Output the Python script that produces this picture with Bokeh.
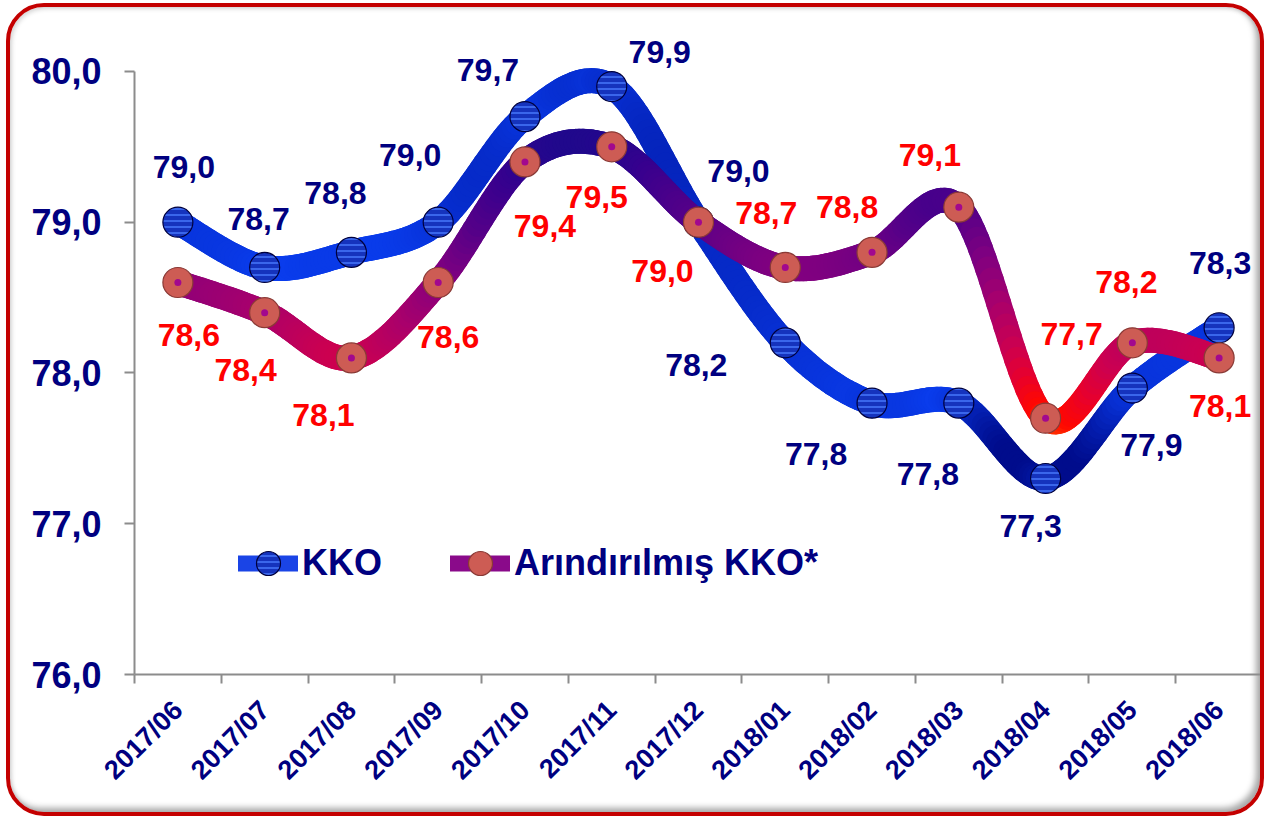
import math
from bokeh.plotting import figure
from bokeh.models import (ColumnDataSource, Range1d, FixedTicker, CustomJSTickFormatter,
                          Legend, LegendItem)
from bokeh.embed import file_html
from bokeh.resources import INLINE
from bokeh.core.properties import value

# ---------------- data ----------------
months = ["2017/06", "2017/07", "2017/08", "2017/09", "2017/10", "2017/11", "2017/12",
          "2018/01", "2018/02", "2018/03", "2018/04", "2018/05", "2018/06"]
kko = [79.0, 78.7, 78.8, 79.0, 79.7, 79.9, 79.0, 78.2, 77.8, 77.8, 77.3, 77.9, 78.3]
ark = [78.6, 78.4, 78.1, 78.6, 79.4, 79.5, 79.0, 78.7, 78.8, 79.1, 77.7, 78.2, 78.1]
y_ticks = [76, 77, 78, 79, 80]
series_names = ["KKO", "Arındırılmış KKO*"]

# label placement (screen pixel offsets from each point)
kko_lab_dx = [6, -6, -16, -28, -37, 48, 40, -89, -56, -31, -15, 19, 1]
kko_lab_dy = [-55, -48, -59, -67, -47, -35, -51, 22, 51, 71, 47, 57, -65]
ark_lab_dx = [11, -19, -28, 10, 20, -15, -36, -19, -25, -29, 26, -6, 1]
ark_lab_dy = [52, 57, 57, 54, 64, 50, 49, -54, -45, -52, -84, -61, 48]

FONT = "Liberation Sans"
NAVY = "#000080"
RED = "#ff0000"
AXIS_GRAY = "#8c8c8c"

xs = [i + 0.5 for i in range(len(months))]

W, H = 1258, 813
p = figure(width=W, height=H, output_backend="svg", toolbar_location=None,
           x_range=Range1d(0, 13), y_range=Range1d(76, 80.338),
           min_border_left=124, min_border_right=6, min_border_top=13,
           min_border_bottom=146)
p.xgrid.visible = False
p.ygrid.visible = False
p.outline_line_color = None
p.background_fill_alpha = 0
p.border_fill_alpha = 0
p.styles = {
    "margin-left": "6px",
    "margin-top": "3px",
    "border": "4px solid #c40000",
    "border-radius": "38px",
    "overflow": "hidden",
    "background-color": "white",
    "box-shadow": "inset -4px -4px 6px rgba(0,0,0,0.35), inset 2px 2px 4px rgba(0,0,0,0.15)",
}


def hex2rgb(h):
    h = h.lstrip("#")
    return tuple(int(h[i:i + 2], 16) for i in (0, 2, 4))


def rgb2hex(c):
    return "#%02x%02x%02x" % tuple(max(0, min(255, int(round(v)))) for v in c)


def mix(c1, c2, f):
    a, b = hex2rgb(c1), hex2rgb(c2)
    return rgb2hex([a[i] + (b[i] - a[i]) * f for i in range(3)])


def stop_color(v, stops):
    if v >= stops[0][0]:
        return stops[0][1]
    for (v1, c1), (v2, c2) in zip(stops[:-1], stops[1:]):
        if v1 >= v >= v2:
            return mix(c1, c2, (v1 - v) / (v1 - v2))
    return stops[-1][1]


RED_STOPS = [(79.6, "#1a0a8c"), (79.3, "#38008e"), (79.0, "#560088"), (78.7, "#800080"),
             (78.4, "#a8006c"), (78.1, "#cc0050"), (77.9, "#e8002c"), (77.72, "#ff0800"),
             (77.6, "#ff6a00")]
BLUE_BRIGHT = "#0a3ef0"
BLUE_DARK = "#000c8c"

PX_X = 1128 / 13
PX_Y = 654 / 4.338


def bez_point(p0, c1, c2, p3, t):
    u = 1 - t
    return tuple(u ** 3 * p0[k] + 3 * u * u * t * c1[k] + 3 * u * t * t * c2[k] + t ** 3 * p3[k]
                 for k in range(2))


def bez_deriv(p0, c1, c2, p3, t):
    u = 1 - t
    return tuple(3 * u * u * (c1[k] - p0[k]) + 6 * u * t * (c2[k] - c1[k]) + 3 * t * t * (p3[k] - c2[k])
                 for k in range(2))


def smooth_source(xv, yv, color_fn, n_sub=24):
    d = dict(x0=[], y0=[], x1=[], y1=[], cx0=[], cy0=[], cx1=[], cy1=[], c=[])
    n = len(xv)
    for i in range(n - 1):
        p0 = (xv[i], yv[i])
        p3 = (xv[i + 1], yv[i + 1])
        pm = (xv[i - 1], yv[i - 1]) if i > 0 else p0
        pp = (xv[i + 2], yv[i + 2]) if i + 2 < n else p3
        c1 = (p0[0] + (p3[0] - pm[0]) / 6, p0[1] + (p3[1] - pm[1]) / 6)
        c2 = (p3[0] - (pp[0] - p0[0]) / 6, p3[1] - (pp[1] - p0[1]) / 6)
        for k in range(n_sub):
            t0, t1 = k / n_sub, (k + 1) / n_sub
            a = bez_point(p0, c1, c2, p3, t0)
            b = bez_point(p0, c1, c2, p3, t1)
            da = bez_deriv(p0, c1, c2, p3, t0)
            db = bez_deriv(p0, c1, c2, p3, t1)
            h = (t1 - t0) / 3
            d["x0"].append(a[0]); d["y0"].append(a[1])
            d["x1"].append(b[0]); d["y1"].append(b[1])
            d["cx0"].append(a[0] + h * da[0]); d["cy0"].append(a[1] + h * da[1])
            d["cx1"].append(b[0] - h * db[0]); d["cy1"].append(b[1] - h * db[1])
            tm = (t0 + t1) / 2
            m = bez_point(p0, c1, c2, p3, tm)
            dm = bez_deriv(p0, c1, c2, p3, tm)
            slope = abs(dm[1] * PX_Y) / max(1e-6, abs(dm[0] * PX_X))
            d["c"].append(color_fn(m[1], slope))
    return ColumnDataSource(d)


def blue_color(v, slope):
    f = min(1.0, slope / 2.2) * 0.6
    f += max(0.0, min(1.0, (77.85 - v) / 0.45)) * 0.8
    f += max(0.0, min(1.0, (v - 79.8) / 0.2)) * 0.35
    return mix(BLUE_BRIGHT, BLUE_DARK, min(1.0, f))


def red_color(v, slope):
    return stop_color(v, RED_STOPS)


RIBBON_W = 25
K_FILL, K_LINE, K_HATCH = "#1533bd", "#00003c", "#4a7cff"
A_FILL, A_LINE, A_DOT = "#cd5c54", "#8a3a36", "#a2088e"

# ---- KKO ribbon + markers ----
src_k = smooth_source(xs, kko, blue_color)
p.bezier(x0="x0", y0="y0", x1="x1", y1="y1", cx0="cx0", cy0="cy0", cx1="cx1", cy1="cy1",
         source=src_k, line_color="c", line_width=RIBBON_W, line_cap="round")
pts_k = ColumnDataSource(dict(x=xs, y=kko))
p.scatter("x", "y", source=pts_k, size=30, fill_color=K_FILL, line_color=K_LINE,
          line_width=1.2, hatch_pattern="horizontal_line", hatch_color=K_HATCH,
          hatch_scale=6, hatch_weight=2, hatch_alpha=0.7)

# ---- Arındırılmış ribbon + markers ----
src_a = smooth_source(xs, ark, red_color)
p.bezier(x0="x0", y0="y0", x1="x1", y1="y1", cx0="cx0", cy0="cy0", cx1="cx1", cy1="cy1",
         source=src_a, line_color="c", line_width=RIBBON_W, line_cap="round")
pts_a = ColumnDataSource(dict(x=xs, y=ark))
p.scatter("x", "y", source=pts_a, size=30, fill_color=A_FILL, line_color=A_LINE, line_width=1.2)
p.scatter("x", "y", source=pts_a, size=7, fill_color=A_DOT, line_color=None)


# ---- data labels ----
def fmt(v):
    return ("%.1f" % v).replace(".", ",")


lab_k = ColumnDataSource(dict(x=xs, y=kko, t=[fmt(v) for v in kko], dx=kko_lab_dx, dy=kko_lab_dy))
lab_a = ColumnDataSource(dict(x=xs, y=ark, t=[fmt(v) for v in ark], dx=ark_lab_dx, dy=ark_lab_dy))
for src, col in ((lab_k, NAVY), (lab_a, RED)):
    p.text("x", "y", text="t", x_offset="dx", y_offset="dy", source=src,
           text_font=value(FONT), text_font_style="bold", text_font_size="32px",
           text_color=col, text_align="center", text_baseline="middle")

# ---- axes ----
p.yaxis.ticker = FixedTicker(ticks=y_ticks)
p.yaxis.bounds = (76, 80)
p.yaxis.formatter = CustomJSTickFormatter(code="return tick.toFixed(1).replace('.', ',');")
p.yaxis.axis_line_color = AXIS_GRAY
p.yaxis.axis_line_width = 2
p.yaxis.major_tick_line_color = AXIS_GRAY
p.yaxis.major_tick_line_width = 2
p.yaxis.major_tick_out = 10
p.yaxis.major_tick_in = 0
p.yaxis.minor_tick_line_color = None
p.yaxis.major_label_standoff = 23
p.yaxis.major_label_text_font = FONT
p.yaxis.major_label_text_font_style = "bold"
p.yaxis.major_label_text_font_size = "36px"
p.yaxis.major_label_text_color = NAVY

p.xaxis.ticker = FixedTicker(ticks=xs, minor_ticks=list(range(len(months))))
p.xaxis.formatter = CustomJSTickFormatter(args=dict(labels=months),
                                          code="return labels[Math.round(tick - 0.5)];")
p.xaxis.axis_line_color = AXIS_GRAY
p.xaxis.axis_line_width = 2
p.xaxis.major_tick_line_color = None
p.xaxis.major_tick_out = 0
p.xaxis.major_tick_in = 0
p.xaxis.minor_tick_line_color = AXIS_GRAY
p.xaxis.minor_tick_line_width = 2
p.xaxis.minor_tick_out = 9
p.xaxis.minor_tick_in = 0
p.xaxis.major_label_orientation = math.pi / 4
p.xaxis.major_label_standoff = 22
p.xaxis.major_label_text_font = FONT
p.xaxis.major_label_text_font_style = "bold"
p.xaxis.major_label_text_font_size = "27px"
p.xaxis.major_label_text_color = NAVY

# ---- legend ----
nan_src = ColumnDataSource(dict(x=[float("nan")], y=[float("nan")]))
lg_l1 = p.line("x", "y", source=nan_src, line_width=16, line_color="#1a44e6", line_cap="round")
lg_s1 = p.scatter("x", "y", source=nan_src, size=30, fill_color=K_FILL, line_color=K_LINE,
                  line_width=1.2, hatch_pattern="horizontal_line", hatch_color=K_HATCH,
                  hatch_scale=6, hatch_weight=2, hatch_alpha=0.7)
lg_l2 = p.line("x", "y", source=nan_src, line_width=16, line_color="#8a0a8a", line_cap="round")
lg_s2 = p.scatter("x", "y", source=nan_src, size=30, fill_color=A_FILL, line_color=A_LINE,
                  line_width=1.2)

legend = Legend(items=[LegendItem(label=series_names[0], renderers=[lg_l1, lg_s1]),
                       LegendItem(label=series_names[1], renderers=[lg_l2, lg_s2])],
                location=(104, 76), orientation="horizontal", glyph_width=60, glyph_height=70,
                label_standoff=4, spacing=68, padding=0, margin=0,
                border_line_color=None, background_fill_alpha=0,
                label_text_font=FONT, label_text_font_style="bold",
                label_text_font_size="36px", label_text_color=NAVY,
                label_text_baseline="middle")
p.add_layout(legend)

open("out.html", "w").write(file_html(p, INLINE))
